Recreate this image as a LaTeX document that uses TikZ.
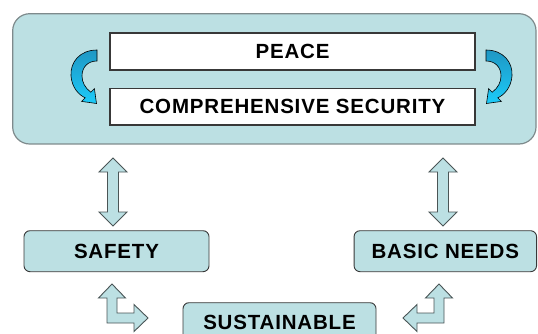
\documentclass[tikz,border=0pt]{standalone}
\usepackage{fontspec}
\setmainfont[LetterSpace=4]{Liberation Sans}
\definecolor{boxfill}{HTML}{BCE0E3}
\definecolor{outerline}{HTML}{7E8A8C}
\definecolor{darkline}{HTML}{383838}
\definecolor{arrowline}{HTML}{4A5556}
\definecolor{cyanA}{HTML}{1F97C4}
\definecolor{cyanB}{HTML}{1BCBFA}
\newcommand{\vdarrow}[3]{% x, ytop, ybot
  \draw[blockarrow] (#1,#2) -- ++(14,14) -- ++(-8.5,0) -- (#1+5.5,#3-14) -- ++(8.5,0)
    -- (#1,#3) -- ++(-14,-14) -- ++(8.5,0) -- (#1-5.5,#2+14) -- ++(-8.5,0) -- cycle;}
\begin{document}
\begin{tikzpicture}[x=1pt,y=-1pt,
  font=\bfseries\fontsize{20.5}{24}\selectfont,
  outerbox/.style={draw=outerline, line width=1.2pt, fill=boxfill, rounded corners=17pt, inner sep=0pt},
  whitebox/.style={draw=darkline, line width=1.2pt, fill=white, minimum width=365pt, inner sep=0pt},
  smallbox/.style={draw=darkline, line width=0.9pt, fill=boxfill, rounded corners=6pt, inner sep=0pt, minimum height=41pt},
  blockarrow/.style={draw=arrowline, line width=0.9pt, fill=boxfill, line join=miter},
  curlarrow/.style={draw=black, line width=0.6pt, top color=cyanA, bottom color=cyanB}]
\useasboundingbox (0,0) rectangle (538,334);
\clip (0,0) rectangle (538,334);

% frame
\node[outerbox, minimum width=523.3pt, minimum height=130.3pt] (frame) at (274.35,78.85) {};
\node[whitebox, minimum height=37pt] (peace) at (292.5,51.5) {PEACE};
\node[whitebox, minimum height=36.5pt] (security) at (292.5,106.8) {COMPREHENSIVE SECURITY};

% curled arrows
\newcommand{\curl}{%
  \draw[curlarrow] (97,50) .. controls (80,50) and (70,62) .. (71,76)
     .. controls (72,88) and (79,95) .. (85.2,97.8) -- (81.6,101.4) -- (96.5,103.5)
     -- (94.4,88.6) -- (90.8,92.2) .. controls (85,88) and (82,82) .. (82,76)
     .. controls (82,67) and (88,61) .. (97,61) -- cycle;}
\curl
\begin{scope}[shift={(583,0)}, xscale=-1]
\curl
\end{scope}

% lower boxes
\node[smallbox, minimum width=185pt] (safety) at (116.5,251.2) {SAFETY};
\node[smallbox, minimum width=182.5pt] (needs) at (445.3,251.2) {BASIC NEEDS};
\node[smallbox, minimum width=193pt, minimum height=40pt] (sustain) at (279.5,322.7) {SUSTAINABLE};

% double arrows
\vdarrow{113}{158}{226}
\vdarrow{443}{158}{226}

% bent arrows
\draw[blockarrow] (112,284) -- (125.5,298) -- (117,298) -- (117,313) -- (134,313) -- (134,304.5)
  -- (148,318) -- (134,331.5) -- (134,323) -- (107,323) -- (107,298) -- (98.5,298) -- cycle;
\draw[blockarrow] (439,284) -- (452.5,298) -- (444,298) -- (444,323) -- (417,323) -- (417,331.5)
  -- (403,318) -- (417,304.5) -- (417,313) -- (434,313) -- (434,298) -- (425.5,298) -- cycle;
\end{tikzpicture}
\end{document}
